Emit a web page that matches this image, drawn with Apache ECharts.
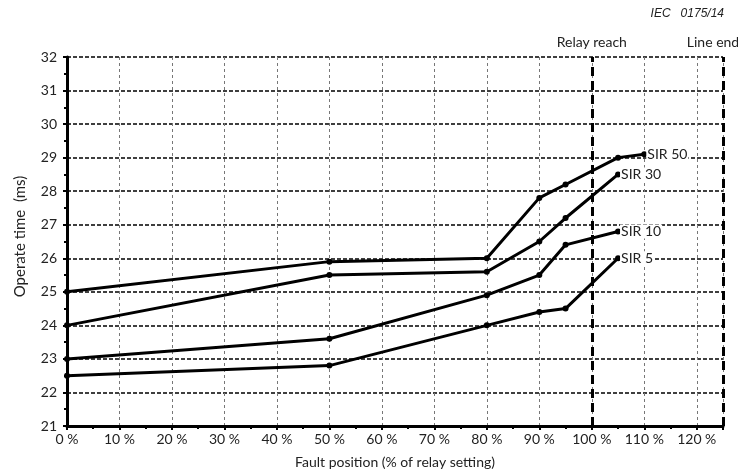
<!DOCTYPE html>
<html>
<head>
<meta charset="utf-8">
<script src="https://cdn.jsdelivr.net/npm/echarts@6/dist/echarts.min.js"></script>
<style>
  html, body { margin: 0; padding: 0; background: #fff; }
  #chart { width: 738px; height: 471px; }
</style>
</head>
<body>
<div id="chart"></div>
<script>
// Operate time versus fault position for several source impedance ratios
const sir50Pos = [0, 50, 80, 90, 95, 105, 110];
const sir50Time = [25.0, 25.9, 26.0, 27.8, 28.2, 29.0, 29.1];

const sir30Pos = [0, 50, 80, 90, 95, 105];
const sir30Time = [24.0, 25.5, 25.6, 26.5, 27.2, 28.5];

const sir10Pos = [0, 50, 80, 90, 95, 105];
const sir10Time = [23.0, 23.6, 24.9, 25.5, 26.4, 26.8];

const sir5Pos = [0, 50, 80, 90, 95, 105];
const sir5Time = [22.5, 22.8, 24.0, 24.4, 24.5, 26.0];

const seriesNames = ['SIR 50', 'SIR 30', 'SIR 10', 'SIR 5'];

// Reference positions marked with vertical dashed lines
const relayReach = 100;
const lineEnd = 125;
const markerNames = ['Relay reach', 'Line end'];

const xMin = 0, xMax = 125, xStep = 10;
const yMin = 21, yMax = 32, yStep = 1;

const FONT = 'Lato, "Open Sans", sans-serif';

function pairs(xs, ys) {
  return xs.map((x, i) => [x, ys[i]]);
}

function curve(name, xs, ys) {
  return {
    name: name,
    type: 'line',
    data: pairs(xs, ys),
    symbol: 'circle',
    symbolSize: 6,
    itemStyle: { color: '#000' },
    lineStyle: { color: '#000', width: 3 },
    endLabel: {
      show: true,
      formatter: '{a}',
      distance: 2,
      color: '#222',
      fontFamily: FONT,
      fontSize: 14,
      backgroundColor: '#fff',
      padding: [0, 1]
    },
    silent: true,
    animation: false,
    z: 5
  };
}

const chart = echarts.init(document.getElementById('chart'), null, { renderer: 'canvas' });

chart.setOption({
  backgroundColor: '#fff',
  animation: false,
  grid: { left: 67, right: 15, top: 57, bottom: 45, containLabel: false, outerBoundsMode: 'none' },
  xAxis: {
    type: 'value',
    min: xMin, max: xMax, interval: xStep,
    name: 'Fault position (% of relay setting)',
    nameLocation: 'middle',
    nameGap: 29,
    nameTextStyle: { fontFamily: FONT, fontSize: 14, color: '#222' },
    axisLine: { show: true, onZero: false, lineStyle: { color: '#000', width: 3 } },
    axisTick: { show: true, length: 4, lineStyle: { color: '#000', width: 2 } },
    minorTick: { show: true, splitNumber: 2, length: 3, lineStyle: { color: '#000', width: 2 } },
    axisLabel: {
      formatter: v => v + ' %',
      showMaxLabel: false,
      margin: 6,
      fontFamily: FONT, fontSize: 14, color: '#222'
    },
    splitLine: { show: true, lineStyle: { color: '#777', width: 1, type: [3, 3] } }
  },
  yAxis: {
    type: 'value',
    min: yMin, max: yMax, interval: yStep,
    name: 'Operate time  (ms)',
    nameLocation: 'middle',
    nameGap: 39,
    nameTextStyle: { fontFamily: FONT, fontSize: 15, color: '#222', padding: [0, 0, 0, 10] },
    axisLine: { show: true, lineStyle: { color: '#000', width: 3 } },
    axisTick: { show: true, length: 4, lineStyle: { color: '#000', width: 2 } },
    minorTick: { show: true, splitNumber: 2, length: 3, lineStyle: { color: '#000', width: 2 } },
    axisLabel: { margin: 10, fontFamily: FONT, fontSize: 14, color: '#222' },
    splitLine: { show: true, lineStyle: { color: '#000', width: 1.5, type: [4, 2] } }
  },
  series: [
    curve(seriesNames[0], sir50Pos, sir50Time),
    curve(seriesNames[1], sir30Pos, sir30Time),
    curve(seriesNames[2], sir10Pos, sir10Time),
    curve(seriesNames[3], sir5Pos, sir5Time),
    {
      name: 'limits',
      type: 'line',
      data: [],
      silent: true,
      z: 4,
      markLine: {
        silent: true,
        symbol: 'none',
        animation: false,
        lineStyle: { color: '#000', width: 3, type: [9, 5] },
        label: {
          show: true,
          position: 'end',
          distance: 8,
          fontFamily: FONT,
          fontSize: 14,
          color: '#222',
          formatter: p => p.name
        },
        data: [
          { name: markerNames[0], xAxis: relayReach },
          { name: markerNames[1], xAxis: lineEnd, label: { padding: [0, 20, 0, 0] } }
        ]
      }
    }
  ],
  graphic: [
    {
      type: 'text',
      right: 14,
      top: 8,
      style: {
        text: 'IEC   0175/14',
        font: 'italic 12px "Liberation Sans", Arial, sans-serif',
        fill: '#222'
      }
    }
  ]
});
</script>
</body>
</html>
